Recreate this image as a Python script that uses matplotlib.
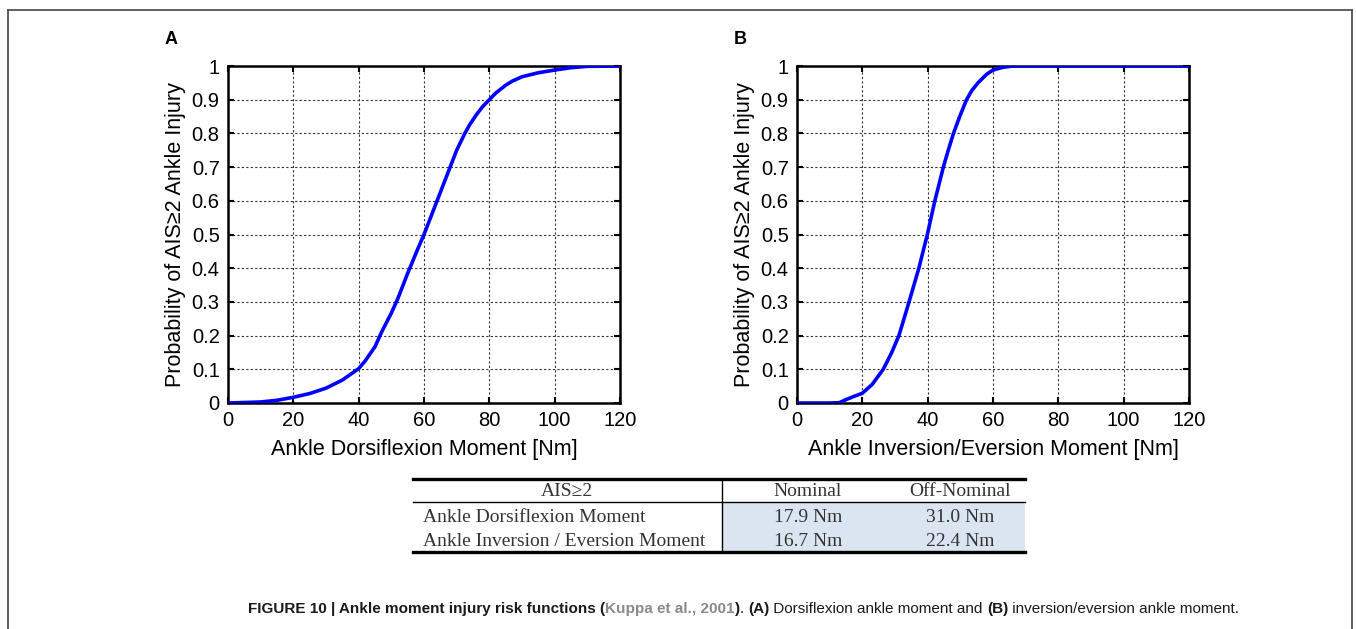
import matplotlib
matplotlib.use("Agg")
import matplotlib.pyplot as plt
from matplotlib.lines import Line2D
from matplotlib.patches import Rectangle

# Courbe A : moment de dorsiflexion
moment_a = [0, 10, 15, 20, 25, 30, 35, 40, 42, 45, 47, 50, 52, 55, 58, 60, 62, 64, 66, 68,
            70, 72.5, 74, 76, 78, 80, 82, 85, 87, 90, 95, 100, 105, 110, 120]
proba_a = [0, 0.003, 0.008, 0.017, 0.028, 0.044, 0.068, 0.102, 0.125, 0.167, 0.21, 0.267,
           0.31, 0.385, 0.455, 0.5, 0.55, 0.6, 0.65, 0.7, 0.75, 0.8, 0.826, 0.855, 0.88, 0.9,
           0.92, 0.943, 0.955, 0.968, 0.98, 0.988, 0.995, 0.999, 1.0]

# Courbe B : moment d'inversion/eversion
moment_b = [0, 10, 13, 15, 17, 20, 23, 26.4, 29, 31.2, 34.3, 37.3, 39.9, 42.2, 44.8, 46.3,
            47.9, 49.8, 51.9, 53.5, 55.4, 58, 60, 63, 66, 120]
proba_b = [0, 0, 0.001, 0.01, 0.018, 0.029, 0.055, 0.1, 0.15, 0.2, 0.3, 0.4, 0.5, 0.6, 0.7,
           0.75, 0.8, 0.85, 0.9, 0.927, 0.95, 0.975, 0.988, 0.996, 1.0, 1.0]

x_ticks = [0, 20, 40, 60, 80, 100, 120]
y_ticks = [0, 0.1, 0.2, 0.3, 0.4, 0.5, 0.6, 0.7, 0.8, 0.9, 1]

# Tableau
entete = ["AIS\u22652", "Nominal", "Off-Nominal"]
lignes = ["Ankle Dorsiflexion Moment", "Ankle Inversion / Eversion Moment"]
nominal = ["17.9 Nm", "16.7 Nm"]
hors_nominal = ["31.0 Nm", "22.4 Nm"]

W, H = 1356, 629
fig = plt.figure(figsize=(W / 100, H / 100), dpi=100)
plt.rcParams["font.family"] = ["Liberation Sans", "DejaVu Sans"]


def fx(px):
    return px / W


def fy(py):
    return 1 - py / H


def panneau(left_px, x, y, lettre, xlabel):
    ax = fig.add_axes([fx(left_px), fy(403), 392 / W, 337 / H])
    ax.plot(x, y, color="#0000ff", lw=2.6, zorder=3)
    ax.set_xlim(0, 120)
    ax.set_ylim(0, 1)
    ax.set_xticks(x_ticks)
    ax.set_yticks(y_ticks)
    ax.set_yticklabels([f"{v:g}" for v in y_ticks])
    ax.tick_params(direction="in", length=4, width=1.5, top=True, right=True,
                   labelsize=14.5, pad=6, colors="black")
    for s in ax.spines.values():
        s.set_linewidth(1.8)
    ax.grid(True, linestyle=(0, (2, 2)), color="#333333", linewidth=0.8)
    ax.set_xlabel(xlabel, fontsize=15.5, labelpad=6)
    ax.set_ylabel("Probability of AIS\u22652 Ankle Injury", fontsize=15.5, labelpad=4)
    fig.text(fx(left_px - 63), fy(40), lettre, fontsize=13, fontweight="bold",
             ha="left", va="center")
    return ax


panneau(228, moment_a, proba_a, "A", "Ankle Dorsiflexion Moment [Nm]")
panneau(797, moment_b, proba_b, "B", "Ankle Inversion/Eversion Moment [Nm]")

# cadre de la figure
for (x0, y0, x1, y1) in [(8, 10, 1352, 10), (8, 10, 8, 629), (1352, 10, 1352, 629)]:
    fig.add_artist(Line2D([fx(x0), fx(x1)], [fy(y0), fy(y1)], color="#444444", lw=1.2))

# tableau
fig.add_artist(Rectangle((fx(722), fy(551)), fx(1025) - fx(722), fy(502) - fy(551),
                         facecolor="#dbe5f1", edgecolor="none"))
fig.add_artist(Line2D([fx(413), fx(1025)], [fy(479), fy(479)], color="black", lw=2.4))
fig.add_artist(Line2D([fx(413), fx(1025)], [fy(501.5), fy(501.5)], color="black", lw=1.0))
fig.add_artist(Line2D([fx(413), fx(1025)], [fy(552), fy(552)], color="black", lw=2.4))
fig.add_artist(Line2D([fx(722), fx(722)], [fy(479), fy(552)], color="black", lw=1.0))

serif = dict(family="Liberation Serif", fontsize=14, color="#333333", va="center")
fig.text(fx(567), fy(492), entete[0], ha="center", **serif)
fig.text(fx(808), fy(492), entete[1], ha="center", **serif)
fig.text(fx(960), fy(492), entete[2], ha="center", **serif)
for i, nom in enumerate(lignes):
    yy = fy(517 + 25 * i)
    fig.text(fx(423), yy, nom, ha="left", **serif)
    fig.text(fx(808), yy, nominal[i], ha="center", **serif)
    fig.text(fx(960), yy, hors_nominal[i], ha="center", **serif)

# légende de la figure, morceau par morceau
morceaux = [
    ("FIGURE 10 | Ankle moment injury risk functions (", "bold", "#1a1a1a"),
    ("Kuppa et al., 2001", "bold", "#8a8a8a"),
    (")", "bold", "#1a1a1a"),
    (". ", "normal", "#1a1a1a"),
    ("(A)", "bold", "#1a1a1a"),
    (" Dorsiflexion ankle moment and ", "normal", "#1a1a1a"),
    ("(B)", "bold", "#1a1a1a"),
    (" inversion/eversion ankle moment.", "normal", "#1a1a1a"),
]
fig.canvas.draw()
renderer = fig.canvas.get_renderer()
x_px = 248
for txt, poids, couleur in morceaux:
    t = fig.text(fx(x_px), fy(609), txt, fontsize=11, fontweight=poids, color=couleur,
                 ha="left", va="center")
    x_px += t.get_window_extent(renderer).width

fig.savefig("out.png", dpi=100)
